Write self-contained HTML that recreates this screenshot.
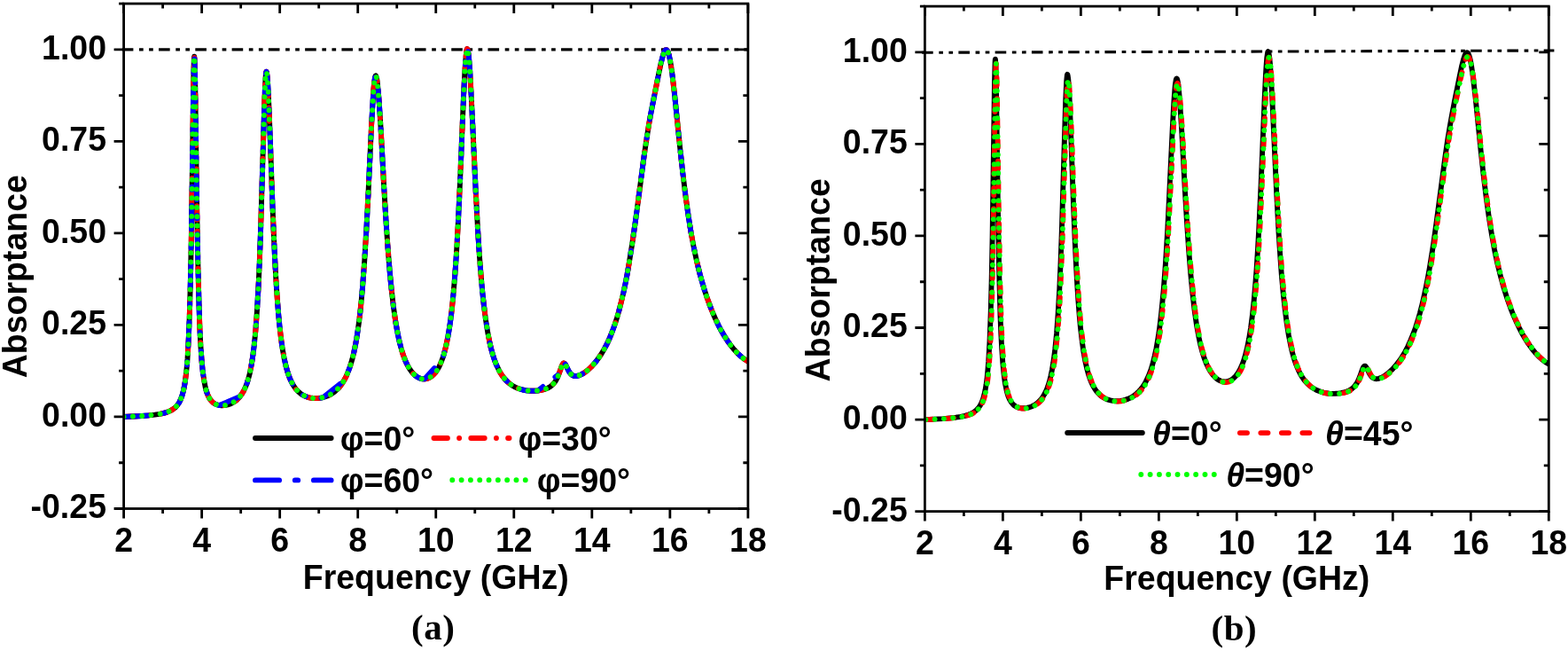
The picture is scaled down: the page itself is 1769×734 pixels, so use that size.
<!DOCTYPE html>
<html><head><meta charset="utf-8"><style>
html,body{margin:0;padding:0;background:#fff;}
svg{display:block;}
.lab{font-family:'Liberation Serif','Times New Roman',serif;font-size:41px;letter-spacing:0.6px;}
text{font-family:'Liberation Sans', Arial, sans-serif;font-weight:bold;font-size:37.5px;fill:#000;}
</style></head><body>
<svg width="1769" height="734" viewBox="0 0 1769 734">
<rect width="1769" height="734" fill="#fff"/>
<line x1="137.8" y1="55.9" x2="843.9" y2="55.9" stroke="#000" stroke-width="3.1" stroke-dasharray="12.6 6.6 4.7 6.4 4.7 6.27"/>
<clipPath id="clipa"><rect x="139.6" y="4.1" width="704.3" height="569.4"/></clipPath>
<g clip-path="url(#clipa)">
<path d="M139.6,470.0 L160.1,469.0 L167.9,468.4 L174.5,467.6 L180.0,466.8 L184.7,465.8 L188.8,464.6 L192.2,463.1 L195.2,461.4 L197.8,459.4 L200.0,457.0 L202.0,454.1 L203.6,450.9 L205.2,446.9 L206.5,442.4 L207.7,436.9 L208.8,430.5 L209.8,422.9 L210.7,414.3 L211.5,404.7 L212.8,381.8 L214.0,349.8 L215.0,311.3 L215.9,264.2 L218.3,90.0 L218.7,70.6 L218.9,65.4 L219.2,63.7 L219.4,65.4 L219.6,70.1 L220.2,93.5 L222.2,238.9 L223.5,304.9 L224.8,353.1 L225.5,372.8 L226.4,390.0 L227.5,405.9 L228.7,418.5 L230.2,428.9 L231.8,437.1 L232.8,440.8 L233.8,443.8 L234.9,446.4 L236.1,448.8 L237.4,450.8 L239.0,452.6 L240.6,454.1 L242.4,455.3 L243.9,456.0 L245.5,456.5 L247.2,456.9 L249.0,457.2 L250.9,457.2 L252.8,457.1 L254.8,456.8 L256.8,456.4 L260.5,455.1 L264.1,453.2 L267.3,450.8 L270.2,447.8 L272.6,444.6 L274.8,441.0 L276.8,436.8 L278.6,432.2 L280.2,426.9 L281.8,420.9 L283.2,414.0 L284.5,406.3 L285.6,398.6 L286.6,390.5 L288.4,372.4 L290.0,349.9 L291.6,322.4 L292.9,292.5 L294.2,255.7 L298.5,110.4 L299.5,88.7 L300.0,82.5 L300.3,81.3 L300.5,80.9 L300.7,81.1 L301.0,82.4 L301.6,86.9 L302.1,94.2 L302.8,106.1 L304.1,137.7 L307.5,232.7 L309.2,272.5 L310.3,295.3 L311.5,317.0 L312.7,335.5 L313.9,351.1 L315.3,366.6 L317.0,381.1 L318.6,392.8 L320.5,403.5 L322.6,412.8 L324.8,420.6 L326.0,424.1 L327.3,427.4 L328.8,430.5 L330.2,433.2 L331.9,435.9 L333.6,438.4 L335.4,440.4 L337.4,442.3 L339.4,444.0 L341.6,445.4 L344.0,446.6 L346.4,447.6 L349.0,448.3 L351.8,448.8 L354.6,449.1 L357.6,449.1 L360.6,448.8 L363.5,448.3 L366.4,447.5 L369.3,446.5 L371.7,445.4 L374.0,444.1 L376.2,442.6 L378.4,440.9 L380.4,439.1 L382.4,437.1 L384.1,434.9 L385.9,432.5 L387.5,430.0 L389.1,427.3 L390.6,424.2 L392.0,421.0 L394.8,413.7 L397.2,405.7 L399.1,398.1 L400.7,390.3 L402.3,381.7 L403.8,371.8 L405.3,361.0 L406.6,349.6 L407.9,336.5 L409.1,322.8 L411.3,293.1 L413.5,256.6 L415.5,218.0 L419.1,140.9 L420.7,112.8 L421.5,100.2 L422.3,92.1 L423.1,87.1 L423.5,85.7 L423.9,85.4 L424.3,85.9 L424.7,87.2 L425.2,89.2 L425.7,92.9 L426.7,102.4 L427.7,115.0 L429.5,142.9 L433.3,212.6 L435.3,246.0 L437.4,277.2 L439.5,303.7 L441.6,325.8 L443.9,345.9 L446.4,363.5 L449.1,378.1 L450.8,386.0 L452.8,393.6 L454.8,400.0 L457.0,405.9 L459.3,411.0 L461.8,415.6 L464.5,419.3 L467.2,422.3 L468.8,423.7 L470.3,424.8 L471.9,425.7 L473.6,426.5 L475.2,427.0 L476.9,427.3 L478.5,427.3 L480.2,427.2 L481.8,426.9 L483.4,426.3 L484.9,425.6 L486.5,424.6 L488.0,423.4 L489.4,422.1 L490.9,420.5 L492.2,418.8 L493.8,416.2 L495.4,413.5 L496.8,410.4 L498.2,407.0 L499.6,403.3 L500.9,399.1 L503.3,389.7 L505.5,378.8 L507.5,366.6 L509.4,352.2 L511.1,335.6 L512.5,319.4 L514.0,300.4 L515.4,278.1 L516.7,254.3 L519.0,205.1 L523.0,109.2 L524.4,80.2 L525.1,69.8 L525.8,62.0 L526.4,57.1 L526.7,55.7 L527.1,55.2 L527.4,55.4 L527.8,56.7 L528.6,61.5 L529.4,69.5 L530.2,80.2 L532.0,114.8 L536.8,217.0 L539.1,259.8 L540.7,285.6 L542.4,307.7 L544.1,327.6 L545.9,344.3 L548.0,360.6 L550.3,375.1 L552.8,387.8 L554.1,393.3 L555.6,398.6 L557.0,403.2 L558.5,407.6 L560.2,411.8 L562.0,415.6 L563.8,419.2 L565.7,422.3 L567.8,425.2 L570.0,427.9 L572.1,430.1 L574.2,431.9 L576.5,433.7 L578.9,435.2 L581.4,436.6 L584.1,437.8 L586.8,438.7 L589.8,439.5 L593.0,440.2 L596.3,440.6 L599.6,440.8 L603.0,440.8 L606.3,440.5 L609.5,440.1 L612.6,439.4 L615.3,438.6 L618.6,437.2 L621.5,435.4 L623.9,433.3 L626.1,430.7 L627.5,428.4 L629.0,425.6 L630.5,421.8 L633.8,412.7 L634.7,410.8 L635.6,409.7 L636.0,409.5 L636.6,409.6 L637.0,409.9 L637.6,410.5 L638.4,411.9 L641.0,417.1 L642.3,419.5 L643.8,421.5 L645.5,422.9 L647.4,423.8 L648.5,424.0 L649.6,424.1 L652.1,423.7 L654.8,422.7 L656.7,421.8 L658.7,420.6 L662.8,417.6 L666.8,413.9 L670.8,409.6 L674.5,404.8 L678.2,399.5 L681.6,393.8 L684.9,387.5 L687.9,381.0 L690.7,373.9 L693.5,366.3 L696.1,358.1 L698.5,349.7 L700.9,340.3 L703.3,330.4 L705.6,319.5 L707.7,308.6 L709.6,297.4 L713.6,272.5 L717.5,245.1 L726.8,174.6 L729.7,155.2 L732.4,138.4 L734.6,126.3 L737.4,112.1 L743.2,83.0 L745.8,70.7 L747.5,64.2 L748.9,59.8 L749.6,58.3 L750.3,57.1 L750.9,56.4 L751.5,56.2 L751.9,56.2 L752.3,56.5 L753.1,57.5 L753.9,59.3 L754.8,62.2 L755.5,65.5 L756.4,70.1 L758.2,81.8 L761.0,106.1 L767.2,166.8 L770.2,194.2 L773.4,220.5 L776.6,243.3 L779.5,261.7 L782.6,278.3 L786.0,294.3 L789.6,309.0 L792.2,318.2 L794.9,327.3 L797.8,336.0 L800.8,344.2 L803.8,352.0 L807.0,359.3 L810.3,366.3 L813.7,372.8 L817.3,378.9 L820.9,384.5 L824.6,389.7 L828.4,394.3 L832.2,398.5 L836.1,402.0 L840.0,405.1 L843.9,407.6" fill="none" stroke="#000" stroke-width="5.9" stroke-linejoin="round" stroke-linecap="round"/>
<path d="M139.6,470.0 L160.1,469.0 L167.9,468.4 L174.5,467.6 L180.0,466.8 L184.7,465.8 L188.8,464.6 L192.2,463.1 L195.2,461.4 L197.8,459.4 L200.0,457.0 L202.0,454.1 L203.6,450.9 L205.2,446.9 L206.5,442.4 L207.7,436.9 L208.8,430.5 L209.8,422.9 L210.7,414.3 L211.5,404.7 L212.8,381.8 L214.0,349.8 L215.0,311.3 L215.9,264.2 L218.3,90.0 L218.7,70.6 L218.9,65.4 L219.2,63.7 L219.4,65.4 L219.6,70.1 L220.2,93.5 L222.2,238.9 L223.5,304.9 L224.8,353.1 L225.5,372.8 L226.4,390.0 L227.5,405.9 L228.7,418.5 L230.2,428.9 L231.8,437.1 L232.8,440.8 L233.8,443.8 L234.9,446.4 L236.1,448.8 L237.4,450.8 L239.0,452.6 L240.6,454.1 L242.4,455.3 L243.9,456.0 L245.5,456.5 L247.2,456.9 L249.0,457.2 L250.9,457.2 L252.8,457.1 L254.8,456.8 L256.8,456.4 L260.5,455.1 L264.1,453.2 L267.3,450.8 L270.2,447.8 L272.6,444.6 L274.8,441.0 L276.8,436.8 L278.6,432.2 L280.2,426.9 L281.8,420.9 L283.2,414.0 L284.5,406.3 L285.6,398.6 L286.6,390.5 L288.4,372.4 L290.0,349.9 L291.6,322.4 L292.9,292.5 L294.2,255.7 L298.5,110.4 L299.5,88.7 L300.0,82.5 L300.3,81.3 L300.5,80.9 L300.7,81.1 L301.0,82.4 L301.6,86.9 L302.1,94.2 L302.8,106.1 L304.1,137.7 L307.5,232.7 L309.2,272.5 L310.3,295.3 L311.5,317.0 L312.7,335.5 L313.9,351.1 L315.3,366.6 L317.0,381.1 L318.6,392.8 L320.5,403.5 L322.6,412.8 L324.8,420.6 L326.0,424.1 L327.3,427.4 L328.8,430.5 L330.2,433.2 L331.9,435.9 L333.6,438.4 L335.4,440.4 L337.4,442.3 L339.4,444.0 L341.6,445.4 L344.0,446.6 L346.4,447.6 L349.0,448.3 L351.8,448.8 L354.6,449.1 L357.6,449.1 L360.6,448.8 L363.5,448.3 L366.4,447.5 L369.3,446.5 L371.7,445.4 L374.0,444.1 L376.2,442.6 L378.4,440.9 L380.4,439.1 L382.4,437.1 L384.1,434.9 L385.9,432.5 L387.5,430.0 L389.1,427.3 L390.6,424.2 L392.0,421.0 L394.8,413.7 L397.2,405.7 L399.1,398.1 L400.7,390.3 L402.3,381.7 L403.8,371.8 L405.3,361.0 L406.6,349.6 L407.9,336.5 L409.1,322.8 L411.3,293.1 L413.5,256.6 L415.5,218.0 L419.1,140.9 L420.7,112.8 L421.5,100.2 L422.3,92.1 L423.1,87.1 L423.5,85.7 L423.9,85.4 L424.3,85.9 L424.7,87.2 L425.2,89.2 L425.7,92.9 L426.7,102.4 L427.7,115.0 L429.5,142.9 L433.3,212.6 L435.3,246.0 L437.4,277.2 L439.5,303.7 L441.6,325.8 L443.9,345.9 L446.4,363.5 L449.1,378.1 L450.8,386.0 L452.8,393.6 L454.8,400.0 L457.0,405.9 L459.3,411.0 L461.8,415.6 L464.5,419.3 L467.2,422.3 L468.8,423.7 L470.3,424.8 L471.9,425.7 L473.6,426.5 L475.2,427.0 L476.9,427.3 L478.5,427.3 L480.2,427.2 L481.8,426.9 L483.4,426.3 L484.9,425.6 L486.5,424.6 L488.0,423.4 L489.4,422.1 L490.9,420.5 L492.2,418.8 L493.8,416.2 L495.4,413.5 L496.8,410.4 L498.2,407.0 L499.6,403.3 L500.9,399.1 L503.3,389.7 L505.5,378.8 L507.5,366.6 L509.4,352.2 L511.1,335.6 L512.5,319.4 L514.0,300.4 L515.4,278.1 L516.7,254.3 L519.0,205.1 L523.0,109.2 L524.4,80.2 L525.1,69.8 L525.8,62.0 L526.4,57.1 L526.7,55.7 L527.1,55.2 L527.4,55.4 L527.8,56.7 L528.6,61.5 L529.4,69.5 L530.2,80.2 L532.0,114.8 L536.8,217.0 L539.1,259.8 L540.7,285.6 L542.4,307.7 L544.1,327.6 L545.9,344.3 L548.0,360.6 L550.3,375.1 L552.8,387.8 L554.1,393.3 L555.6,398.6 L557.0,403.2 L558.5,407.6 L560.2,411.8 L562.0,415.6 L563.8,419.2 L565.7,422.3 L567.8,425.2 L570.0,427.9 L572.1,430.1 L574.2,431.9 L576.5,433.7 L578.9,435.2 L581.4,436.6 L584.1,437.8 L586.8,438.7 L589.8,439.5 L593.0,440.2 L596.3,440.6 L599.6,440.8 L603.0,440.8 L606.3,440.5 L609.5,440.1 L612.6,439.4 L615.3,438.6 L618.6,437.2 L621.5,435.4 L623.9,433.3 L626.1,430.7 L627.5,428.4 L629.0,425.6 L630.5,421.8 L633.8,412.7 L634.7,410.8 L635.6,409.7 L636.0,409.5 L636.6,409.6 L637.0,409.9 L637.6,410.5 L638.4,411.9 L641.0,417.1 L642.3,419.5 L643.8,421.5 L645.5,422.9 L647.4,423.8 L648.5,424.0 L649.6,424.1 L652.1,423.7 L654.8,422.7 L656.7,421.8 L658.7,420.6 L662.8,417.6 L666.8,413.9 L670.8,409.6 L674.5,404.8 L678.2,399.5 L681.6,393.8 L684.9,387.5 L687.9,381.0 L690.7,373.9 L693.5,366.3 L696.1,358.1 L698.5,349.7 L700.9,340.3 L703.3,330.4 L705.6,319.5 L707.7,308.6 L709.6,297.4 L713.6,272.5 L717.5,245.1 L726.8,174.6 L729.7,155.2 L732.4,138.4 L734.6,126.3 L737.4,112.1 L743.2,83.0 L745.8,70.7 L747.5,64.2 L748.9,59.8 L749.6,58.3 L750.3,57.1 L750.9,56.4 L751.5,56.2 L751.9,56.2 L752.3,56.5 L753.1,57.5 L753.9,59.3 L754.8,62.2 L755.5,65.5 L756.4,70.1 L758.2,81.8 L761.0,106.1 L767.2,166.8 L770.2,194.2 L773.4,220.5 L776.6,243.3 L779.5,261.7 L782.6,278.3 L786.0,294.3 L789.6,309.0 L792.2,318.2 L794.9,327.3 L797.8,336.0 L800.8,344.2 L803.8,352.0 L807.0,359.3 L810.3,366.3 L813.7,372.8 L817.3,378.9 L820.9,384.5 L824.6,389.7 L828.4,394.3 L832.2,398.5 L836.1,402.0 L840.0,405.1 L843.9,407.6" fill="none" stroke="#f00" stroke-width="5.9" stroke-linejoin="round" stroke-linecap="round" stroke-dasharray="15.4 13.2 0.01 13.2"/>
<path d="M139.6,470.0 L160.1,469.0 L167.9,468.4 L174.5,467.6 L180.0,466.8 L184.7,465.8 L188.8,464.6 L192.2,463.1 L195.2,461.4 L197.8,459.4 L200.0,457.0 L202.0,454.1 L203.6,450.9 L205.2,446.9 L206.5,442.4 L207.7,436.9 L208.8,430.5 L209.8,422.9 L210.7,414.3 L211.5,404.7 L212.8,381.8 L214.0,349.8 L215.0,311.3 L215.9,264.2 L218.3,90.0 L218.7,70.6 L218.9,65.4 L219.2,63.7 L219.4,65.4 L219.6,70.1 L220.2,93.5 L222.2,238.9 L223.5,304.9 L224.8,353.1 L225.5,372.8 L226.4,390.0 L227.5,405.9 L228.7,418.5 L230.2,428.9 L231.8,437.1 L232.8,440.8 L233.8,443.8 L234.9,446.4 L236.1,448.8 L237.4,450.8 L239.0,452.6 L240.6,454.1 L242.4,455.3 L244.8,456.3 L247.4,457.0 L270.8,447.2 L273.1,444.0 L275.2,440.3 L277.0,436.3 L278.8,431.6 L280.5,426.1 L281.9,420.4 L283.2,414.0 L284.5,406.3 L285.6,398.6 L286.6,390.5 L288.4,372.4 L290.0,349.9 L291.6,322.4 L292.9,292.5 L294.2,255.7 L298.5,110.4 L299.5,88.7 L300.0,82.5 L300.3,81.3 L300.5,80.9 L300.7,81.1 L301.0,82.4 L301.6,86.9 L302.7,103.9 L303.9,131.9 L307.3,226.9 L309.3,274.9 L310.4,297.4 L311.6,318.8 L312.8,337.0 L314.1,353.7 L315.6,368.7 L317.2,382.8 L319.0,394.9 L321.0,405.7 L323.0,414.5 L325.5,422.5 L326.8,426.1 L328.1,429.1 L329.5,432.0 L331.0,434.6 L332.4,436.7 L333.9,438.8 L335.6,440.6 L337.2,442.2 L339.1,443.8 L341.0,445.0 L343.0,446.1 L345.1,447.1 L347.3,447.9 L349.6,448.5 L352.0,448.9 L354.5,449.1 L357.1,449.1 L359.6,448.9 L362.1,448.6 L364.6,448.0 L387.6,429.8 L390.4,424.7 L392.9,418.9 L395.2,412.4 L397.4,404.8 L399.2,397.6 L400.9,389.7 L402.4,381.1 L403.9,371.0 L405.4,360.1 L406.7,348.6 L409.1,322.8 L411.3,293.1 L413.5,256.6 L415.5,218.0 L419.1,140.9 L420.7,112.8 L421.5,100.2 L422.3,92.1 L423.1,87.1 L423.5,85.7 L423.9,85.4 L424.3,85.9 L424.7,87.2 L425.6,92.1 L426.6,101.2 L427.6,113.4 L429.4,141.0 L433.4,214.5 L435.4,247.8 L437.6,280.2 L439.9,308.7 L442.3,333.0 L444.9,353.3 L446.2,362.2 L447.6,370.6 L449.1,378.1 L450.6,385.1 L452.8,393.6 L455.1,401.0 L457.6,407.5 L460.3,412.9 L461.7,415.4 L463.2,417.7 L464.8,419.7 L466.3,421.5 L468.0,423.0 L469.6,424.3 L471.3,425.4 L473.0,426.2 L474.6,426.8 L476.1,427.2 L477.7,427.3 L479.1,427.3 L498.8,405.4 L500.9,399.1 L503.0,391.1 L505.0,381.8 L506.7,371.7 L508.4,360.2 L509.9,347.4 L511.3,333.3 L512.7,318.1 L515.0,285.3 L517.3,243.4 L519.3,199.9 L522.9,111.7 L524.2,84.1 L525.0,71.4 L525.8,62.0 L526.4,57.1 L526.7,55.7 L527.1,55.2 L527.4,55.4 L527.8,56.7 L528.6,61.5 L529.4,69.5 L530.2,80.2 L532.0,114.8 L536.8,217.0 L539.1,259.8 L540.7,285.6 L542.4,307.7 L544.1,327.6 L545.9,344.3 L548.0,360.6 L550.3,375.1 L552.8,387.8 L554.1,393.3 L555.6,398.6 L557.0,403.2 L558.5,407.6 L560.2,411.8 L562.0,415.6 L563.8,419.2 L565.7,422.3 L567.8,425.2 L570.0,427.9 L573.5,431.4 L577.3,434.2 L581.3,436.5 L585.8,438.4 L590.8,439.8 L596.0,440.6 L601.4,440.8 L606.7,440.5 L630.4,421.9 L634.0,412.1 L635.0,410.3 L635.5,409.8 L635.9,409.6 L636.4,409.5 L636.8,409.7 L637.8,410.8 L638.7,412.4 L641.3,417.8 L643.1,420.6 L644.7,422.3 L646.5,423.5 L647.8,423.9 L649.1,424.1 L650.5,424.0 L652.1,423.7 L653.7,423.2 L655.5,422.4 L659.4,420.2 L662.8,417.6 L666.3,414.4 L669.7,410.8 L673.0,406.9 L676.2,402.5 L679.2,397.9 L682.1,392.8 L684.9,387.5 L687.9,381.0 L690.7,373.9 L693.5,366.3 L696.1,358.1 L698.5,349.7 L700.9,340.3 L703.3,330.4 L705.6,319.5 L707.7,308.6 L709.6,297.4 L713.6,272.5 L717.5,245.1 L726.8,174.6 L729.7,155.2 L732.4,138.4 L734.6,126.3 L737.4,112.1 L743.2,83.0 L745.8,70.7 L747.5,64.2 L748.9,59.8 L749.6,58.3 L750.3,57.1 L750.9,56.4 L751.5,56.2 L751.9,56.2 L752.3,56.5 L753.1,57.5 L753.9,59.3 L754.8,62.2 L755.5,65.5 L756.4,70.1 L758.2,81.8 L761.0,106.1 L767.2,166.8 L770.2,194.2 L773.4,220.5 L776.6,243.3 L779.5,261.7 L782.6,278.3 L786.0,294.3 L789.6,309.0 L792.2,318.2 L794.9,327.3 L797.8,336.0 L800.8,344.2 L803.8,352.0 L807.0,359.3 L810.3,366.3 L813.7,372.8 L817.3,378.9 L820.9,384.5 L824.6,389.7 L828.4,394.3 L832.2,398.5 L836.1,402.0 L840.0,405.1 L843.9,407.6" fill="none" stroke="#00f" stroke-width="5.9" stroke-linejoin="round" stroke-linecap="round" stroke-dasharray="27.1 17.7 3.4 17.7"/>
<path d="M139.6,470.0 L160.1,469.0 L167.9,468.4 L174.5,467.6 L180.0,466.8 L184.7,465.8 L188.8,464.6 L192.2,463.1 L195.2,461.4 L197.8,459.4 L200.0,457.0 L202.0,454.1 L203.6,450.9 L205.2,446.9 L206.5,442.4 L207.7,436.9 L208.8,430.5 L209.8,422.9 L210.7,414.3 L211.5,404.7 L212.8,381.8 L214.0,349.8 L215.0,311.3 L215.9,264.2 L218.3,90.0 L218.7,70.6 L218.9,65.4 L219.2,63.7 L219.4,65.4 L219.6,70.1 L220.2,93.5 L222.2,238.9 L223.5,304.9 L224.8,353.1 L225.5,372.8 L226.4,390.0 L227.5,405.9 L228.7,418.5 L230.2,428.9 L231.8,437.1 L232.8,440.8 L233.8,443.8 L234.9,446.4 L236.1,448.8 L237.4,450.8 L239.0,452.6 L240.6,454.1 L242.4,455.3 L243.9,456.0 L245.5,456.5 L247.2,456.9 L249.0,457.2 L250.9,457.2 L252.8,457.1 L254.8,456.8 L256.8,456.4 L260.5,455.1 L264.1,453.2 L267.3,450.8 L270.2,447.8 L272.6,444.6 L274.8,441.0 L276.8,436.8 L278.6,432.2 L280.2,426.9 L281.8,420.9 L283.2,414.0 L284.5,406.3 L285.6,398.6 L286.6,390.5 L288.4,372.4 L290.0,349.9 L291.6,322.4 L292.9,292.5 L294.2,255.7 L298.5,110.4 L299.5,88.7 L300.0,82.5 L300.3,81.3 L300.5,80.9 L300.7,81.1 L301.0,82.4 L301.6,86.9 L302.1,94.2 L302.8,106.1 L304.1,137.7 L307.5,232.7 L309.2,272.5 L310.3,295.3 L311.5,317.0 L312.7,335.5 L313.9,351.1 L315.3,366.6 L317.0,381.1 L318.6,392.8 L320.5,403.5 L322.6,412.8 L324.8,420.6 L326.0,424.1 L327.3,427.4 L328.8,430.5 L330.2,433.2 L331.9,435.9 L333.6,438.4 L335.4,440.4 L337.4,442.3 L339.4,444.0 L341.6,445.4 L344.0,446.6 L346.4,447.6 L349.0,448.3 L351.8,448.8 L354.6,449.1 L357.6,449.1 L360.6,448.8 L363.5,448.3 L366.4,447.5 L369.3,446.5 L371.7,445.4 L374.0,444.1 L376.2,442.6 L378.4,440.9 L380.4,439.1 L382.4,437.1 L384.1,434.9 L385.9,432.5 L387.5,430.0 L389.1,427.3 L390.6,424.2 L392.0,421.0 L394.8,413.7 L397.2,405.7 L399.1,398.1 L400.7,390.3 L402.3,381.7 L403.8,371.8 L405.3,361.0 L406.6,349.6 L407.9,336.5 L409.1,322.8 L411.3,293.1 L413.5,256.6 L415.5,218.0 L419.1,140.9 L420.7,112.8 L421.5,100.2 L422.3,92.1 L423.1,87.1 L423.5,85.7 L423.9,85.4 L424.3,85.9 L424.7,87.2 L425.2,89.2 L425.7,92.9 L426.7,102.4 L427.7,115.0 L429.5,142.9 L433.3,212.6 L435.3,246.0 L437.4,277.2 L439.5,303.7 L441.6,325.8 L443.9,345.9 L446.4,363.5 L449.1,378.1 L450.8,386.0 L452.8,393.6 L454.8,400.0 L457.0,405.9 L459.3,411.0 L461.8,415.6 L464.5,419.3 L467.2,422.3 L468.8,423.7 L470.3,424.8 L471.9,425.7 L473.6,426.5 L475.2,427.0 L476.9,427.3 L478.5,427.3 L480.2,427.2 L481.8,426.9 L483.4,426.3 L484.9,425.6 L486.5,424.6 L488.0,423.4 L489.4,422.1 L490.9,420.5 L492.2,418.8 L493.8,416.2 L495.4,413.5 L496.8,410.4 L498.2,407.0 L499.6,403.3 L500.9,399.1 L503.3,389.7 L505.5,378.8 L507.5,366.6 L509.4,352.2 L511.1,335.6 L512.5,319.4 L514.0,300.4 L515.4,278.1 L516.7,254.3 L519.0,205.1 L523.0,109.2 L524.4,80.2 L525.1,69.8 L525.8,62.0 L526.4,57.1 L526.7,55.7 L527.1,55.2 L527.4,55.4 L527.8,56.7 L528.6,61.5 L529.4,69.5 L530.2,80.2 L532.0,114.8 L536.8,217.0 L539.1,259.8 L540.7,285.6 L542.4,307.7 L544.1,327.6 L545.9,344.3 L548.0,360.6 L550.3,375.1 L552.8,387.8 L554.1,393.3 L555.6,398.6 L557.0,403.2 L558.5,407.6 L560.2,411.8 L562.0,415.6 L563.8,419.2 L565.7,422.3 L567.8,425.2 L570.0,427.9 L572.1,430.1 L574.2,431.9 L576.5,433.7 L578.9,435.2 L581.4,436.6 L584.1,437.8 L586.8,438.7 L589.8,439.5 L593.0,440.2 L596.3,440.6 L599.6,440.8 L603.0,440.8 L606.3,440.5 L609.5,440.1 L612.6,439.4 L615.3,438.6 L618.6,437.2 L621.5,435.4 L623.9,433.3 L626.1,430.7 L627.5,428.4 L629.0,425.6 L630.5,421.8 L633.8,412.7 L634.7,410.8 L635.6,409.7 L636.0,409.5 L636.6,409.6 L637.0,409.9 L637.6,410.5 L638.4,411.9 L641.0,417.1 L642.3,419.5 L643.8,421.5 L645.5,422.9 L647.4,423.8 L648.5,424.0 L649.6,424.1 L652.1,423.7 L654.8,422.7 L656.7,421.8 L658.7,420.6 L662.8,417.6 L666.8,413.9 L670.8,409.6 L674.5,404.8 L678.2,399.5 L681.6,393.8 L684.9,387.5 L687.9,381.0 L690.7,373.9 L693.5,366.3 L696.1,358.1 L698.5,349.7 L700.9,340.3 L703.3,330.4 L705.6,319.5 L707.7,308.6 L709.6,297.4 L713.6,272.5 L717.5,245.1 L726.8,174.6 L729.7,155.2 L732.4,138.4 L734.6,126.3 L737.4,112.1 L743.2,83.0 L745.8,70.7 L747.5,64.2 L748.9,59.8 L749.6,58.3 L750.3,57.1 L750.9,56.4 L751.5,56.2 L751.9,56.2 L752.3,56.5 L753.1,57.5 L753.9,59.3 L754.8,62.2 L755.5,65.5 L756.4,70.1 L758.2,81.8 L761.0,106.1 L767.2,166.8 L770.2,194.2 L773.4,220.5 L776.6,243.3 L779.5,261.7 L782.6,278.3 L786.0,294.3 L789.6,309.0 L792.2,318.2 L794.9,327.3 L797.8,336.0 L800.8,344.2 L803.8,352.0 L807.0,359.3 L810.3,366.3 L813.7,372.8 L817.3,378.9 L820.9,384.5 L824.6,389.7 L828.4,394.3 L832.2,398.5 L836.1,402.0 L840.0,405.1 L843.9,407.6" fill="none" stroke="#0f0" stroke-width="5.9" stroke-linejoin="round" stroke-linecap="round" stroke-dasharray="0.01 10.3"/>
</g>
<rect x="139.6" y="4.1" width="704.3" height="569.4" fill="none" stroke="#000" stroke-width="2.8"/>
<line x1="134.1" y1="4.1" x2="139.6" y2="4.1" stroke="#000" stroke-width="2.8"/>
<path d="M139.60,573.5v11 M139.60,4.1v11 M183.62,573.5v5.5 M183.62,4.1v5.5 M227.64,573.5v11 M227.64,4.1v11 M271.66,573.5v5.5 M271.66,4.1v5.5 M315.67,573.5v11 M315.67,4.1v11 M359.69,573.5v5.5 M359.69,4.1v5.5 M403.71,573.5v11 M403.71,4.1v11 M447.73,573.5v5.5 M447.73,4.1v5.5 M491.75,573.5v11 M491.75,4.1v11 M535.77,573.5v5.5 M535.77,4.1v5.5 M579.79,573.5v11 M579.79,4.1v11 M623.81,573.5v5.5 M623.81,4.1v5.5 M667.82,573.5v11 M667.82,4.1v11 M711.84,573.5v5.5 M711.84,4.1v5.5 M755.86,573.5v11 M755.86,4.1v11 M799.88,573.5v5.5 M799.88,4.1v5.5 M843.90,573.5v11 M843.90,4.1v11 M139.6,573.50h-11 M843.9,573.50h-11 M139.6,521.74h-5.5 M843.9,521.74h-5.5 M139.6,469.97h-11 M843.9,469.97h-11 M139.6,418.21h-5.5 M843.9,418.21h-5.5 M139.6,366.45h-11 M843.9,366.45h-11 M139.6,314.68h-5.5 M843.9,314.68h-5.5 M139.6,262.92h-11 M843.9,262.92h-11 M139.6,211.15h-5.5 M843.9,211.15h-5.5 M139.6,159.39h-11 M843.9,159.39h-11 M139.6,107.63h-5.5 M843.9,107.63h-5.5 M139.6,55.86h-11 M843.9,55.86h-11" stroke="#000" stroke-width="2.8" fill="none"/>
<text transform="translate(139.60,621.50) scale(1,1.035)" text-anchor="middle">2</text>
<text transform="translate(227.64,621.50) scale(1,1.035)" text-anchor="middle">4</text>
<text transform="translate(315.67,621.50) scale(1,1.035)" text-anchor="middle">6</text>
<text transform="translate(403.71,621.50) scale(1,1.035)" text-anchor="middle">8</text>
<text transform="translate(491.75,621.50) scale(1,1.035)" text-anchor="middle">10</text>
<text transform="translate(579.79,621.50) scale(1,1.035)" text-anchor="middle">12</text>
<text transform="translate(667.82,621.50) scale(1,1.035)" text-anchor="middle">14</text>
<text transform="translate(755.86,621.50) scale(1,1.035)" text-anchor="middle">16</text>
<text transform="translate(843.90,621.50) scale(1,1.035)" text-anchor="middle">18</text>
<text transform="translate(120.00,584.40) scale(1,1.035)" text-anchor="end">-0.25</text>
<text transform="translate(120.00,480.87) scale(1,1.035)" text-anchor="end">0.00</text>
<text transform="translate(120.00,377.35) scale(1,1.035)" text-anchor="end">0.25</text>
<text transform="translate(120.00,273.82) scale(1,1.035)" text-anchor="end">0.50</text>
<text transform="translate(120.00,170.29) scale(1,1.035)" text-anchor="end">0.75</text>
<text transform="translate(120.00,66.76) scale(1,1.035)" text-anchor="end">1.00</text>
<text transform="translate(491.75,664.30) scale(1,1.035)" text-anchor="middle">Frequency (GHz)</text>
<text transform="translate(30.099999999999994,311.70000000000005) rotate(-90) scale(1,1.035)" text-anchor="middle">Absorptance</text>
<text x="488.75" y="720.8" text-anchor="middle" class="lab">(a)</text>
<line x1="288" y1="494.0" x2="373.6" y2="494.0" stroke="#000" stroke-width="5.9" stroke-linecap="round"/>
<text transform="translate(383.7,507.5) scale(1,1.035)"><tspan>φ</tspan>=0°</text>
<line x1="489.5" y1="494.0" x2="574.5" y2="494.0" stroke="#f00" stroke-width="5.9" stroke-linecap="round" stroke-dasharray="15.4 13.2 0.01 13.2"/>
<text transform="translate(584.4,507.5) scale(1,1.035)"><tspan>φ</tspan>=30°</text>
<line x1="288" y1="541.4" x2="373.6" y2="541.4" stroke="#00f" stroke-width="5.9" stroke-linecap="round" stroke-dasharray="27.1 17.7 3.4 17.7"/>
<text transform="translate(383.7,555.0) scale(1,1.035)"><tspan>φ</tspan>=60°</text>
<line x1="510.3" y1="541.3" x2="595" y2="541.3" stroke="#0f0" stroke-width="5.9" stroke-linecap="round" stroke-dasharray="0.01 10.3"/>
<text transform="translate(605.7,555.0) scale(1,1.035)"><tspan>φ</tspan>=90°</text>
<line x1="1040.1" y1="59.3" x2="1753.4" y2="57.0" stroke="#000" stroke-width="3.1" stroke-dasharray="12.6 6.6 4.7 6.4 4.7 6.27"/>
<clipPath id="clipb"><rect x="1043.4" y="7.1" width="703.8999999999999" height="569.5"/></clipPath>
<g clip-path="url(#clipb)">
<path d="M1043.4,473.1 L1063.9,472.1 L1071.7,471.4 L1078.3,470.7 L1083.8,469.9 L1088.5,468.9 L1092.6,467.6 L1096.0,466.2 L1098.9,464.5 L1101.6,462.4 L1103.8,460.1 L1105.8,457.2 L1107.4,454.0 L1109.0,450.0 L1110.3,445.4 L1111.5,440.0 L1112.6,433.6 L1113.6,426.0 L1114.4,417.3 L1115.2,407.7 L1116.5,384.9 L1117.7,352.8 L1118.7,314.4 L1119.6,267.3 L1122.0,93.0 L1122.5,73.6 L1122.7,68.4 L1122.9,66.7 L1123.1,68.4 L1123.4,73.1 L1123.9,96.6 L1126.0,242.0 L1127.2,308.0 L1128.5,356.1 L1129.3,375.9 L1130.2,393.1 L1131.3,409.0 L1132.5,421.5 L1133.9,431.9 L1135.6,440.2 L1136.6,443.9 L1137.5,446.8 L1138.6,449.5 L1139.9,451.9 L1141.2,453.9 L1142.7,455.7 L1144.4,457.2 L1146.1,458.3 L1147.7,459.1 L1149.2,459.6 L1151.0,460.0 L1152.7,460.2 L1154.6,460.3 L1156.6,460.2 L1158.6,459.9 L1160.5,459.5 L1164.3,458.2 L1167.8,456.3 L1171.0,453.9 L1174.0,450.9 L1176.4,447.7 L1178.6,444.0 L1180.6,439.9 L1182.3,435.3 L1184.0,430.0 L1185.5,423.9 L1186.9,417.1 L1188.2,409.3 L1189.3,401.6 L1190.3,393.5 L1192.1,375.5 L1193.7,353.0 L1195.3,325.5 L1196.6,295.5 L1197.9,258.7 L1202.2,113.4 L1203.2,91.8 L1203.8,85.5 L1204.0,84.3 L1204.2,83.9 L1204.4,84.2 L1204.7,85.4 L1205.3,89.9 L1205.8,97.2 L1206.5,109.1 L1207.8,140.7 L1211.2,235.7 L1212.9,275.6 L1214.0,298.4 L1215.2,320.0 L1216.4,338.5 L1217.6,354.2 L1219.0,369.7 L1220.7,384.2 L1222.3,395.9 L1224.2,406.6 L1226.3,415.9 L1228.5,423.6 L1229.7,427.1 L1231.0,430.5 L1232.5,433.6 L1233.9,436.3 L1235.5,439.0 L1237.3,441.4 L1239.1,443.5 L1241.0,445.4 L1243.1,447.1 L1245.3,448.5 L1247.6,449.7 L1250.1,450.7 L1252.7,451.4 L1255.4,451.9 L1258.3,452.2 L1261.3,452.2 L1264.2,451.9 L1267.2,451.4 L1270.1,450.6 L1272.9,449.6 L1275.4,448.5 L1277.7,447.2 L1279.9,445.7 L1282.1,444.0 L1284.0,442.2 L1286.0,440.1 L1287.8,438.0 L1289.5,435.6 L1291.2,433.1 L1292.7,430.3 L1295.7,424.1 L1298.5,416.8 L1300.9,408.7 L1302.7,401.2 L1304.4,393.3 L1305.9,384.8 L1307.5,374.8 L1308.9,364.1 L1310.2,352.6 L1311.5,339.5 L1312.8,325.8 L1315.0,296.2 L1317.2,259.7 L1319.1,221.1 L1322.8,144.0 L1324.3,115.8 L1325.2,103.2 L1325.9,95.1 L1326.7,90.1 L1327.2,88.7 L1327.5,88.5 L1327.9,88.9 L1328.4,90.2 L1328.8,92.3 L1329.4,95.9 L1330.3,105.4 L1331.3,118.0 L1333.1,145.9 L1336.9,215.6 L1338.9,249.1 L1341.0,280.2 L1343.1,306.7 L1345.2,328.9 L1347.5,349.0 L1350.0,366.6 L1352.7,381.1 L1354.4,389.1 L1356.4,396.7 L1358.4,403.1 L1360.6,409.0 L1362.9,414.1 L1365.4,418.6 L1368.1,422.4 L1370.8,425.4 L1372.4,426.7 L1373.9,427.9 L1375.6,428.8 L1377.2,429.5 L1378.9,430.0 L1380.5,430.3 L1382.2,430.4 L1383.8,430.3 L1385.5,429.9 L1387.0,429.4 L1388.5,428.7 L1390.1,427.7 L1391.6,426.5 L1393.0,425.2 L1394.5,423.6 L1395.8,421.8 L1397.4,419.3 L1399.0,416.5 L1400.4,413.5 L1401.8,410.0 L1403.2,406.4 L1404.5,402.2 L1406.9,392.8 L1409.1,381.9 L1411.1,369.6 L1412.9,355.3 L1414.7,338.7 L1416.1,322.5 L1417.6,303.4 L1419.0,281.1 L1420.3,257.3 L1422.6,208.1 L1426.6,112.2 L1428.0,83.2 L1428.7,72.8 L1429.3,65.0 L1430.0,60.1 L1430.3,58.7 L1430.7,58.2 L1431.0,58.4 L1431.4,59.7 L1432.2,64.5 L1433.0,72.5 L1433.7,83.3 L1435.6,117.8 L1440.3,220.0 L1442.6,262.8 L1444.3,288.7 L1445.9,310.8 L1447.7,330.7 L1449.5,347.3 L1451.6,363.7 L1453.9,378.2 L1456.4,390.8 L1457.7,396.3 L1459.1,401.6 L1460.6,406.3 L1462.1,410.7 L1463.8,414.9 L1465.5,418.7 L1467.4,422.3 L1469.3,425.3 L1471.3,428.3 L1473.5,431.0 L1475.6,433.1 L1477.7,435.0 L1480.0,436.8 L1482.5,438.3 L1485.0,439.7 L1487.6,440.8 L1490.4,441.8 L1493.3,442.6 L1496.5,443.3 L1499.8,443.7 L1503.1,443.9 L1506.5,443.8 L1509.8,443.6 L1513.0,443.2 L1516.1,442.5 L1518.9,441.7 L1522.2,440.3 L1525.0,438.5 L1527.4,436.4 L1529.6,433.7 L1531.1,431.5 L1532.5,428.6 L1534.0,424.9 L1537.3,415.7 L1538.2,413.9 L1539.1,412.8 L1539.5,412.6 L1540.1,412.7 L1540.5,412.9 L1541.1,413.6 L1542.0,415.0 L1544.5,420.2 L1545.8,422.5 L1547.3,424.6 L1549.0,426.0 L1550.9,426.9 L1552.0,427.1 L1553.1,427.2 L1555.6,426.8 L1558.3,425.8 L1560.2,424.9 L1562.2,423.7 L1566.3,420.7 L1570.3,416.9 L1574.3,412.6 L1578.0,407.9 L1581.7,402.6 L1585.1,396.9 L1588.4,390.5 L1591.3,384.0 L1594.2,377.0 L1597.0,369.4 L1599.6,361.2 L1602.0,352.8 L1604.4,343.4 L1606.7,333.5 L1609.0,322.5 L1611.1,311.7 L1613.1,300.5 L1617.1,275.5 L1620.9,248.2 L1630.3,177.6 L1633.1,158.2 L1635.9,141.5 L1638.1,129.3 L1640.8,115.1 L1646.7,86.0 L1649.3,73.7 L1651.0,67.2 L1652.4,62.8 L1653.0,61.3 L1653.7,60.2 L1654.4,59.4 L1654.9,59.2 L1655.4,59.3 L1655.8,59.5 L1656.6,60.6 L1657.3,62.3 L1658.2,65.2 L1659.0,68.5 L1659.9,73.1 L1661.6,84.8 L1664.5,109.2 L1670.6,169.8 L1673.6,197.3 L1676.8,223.5 L1680.0,246.3 L1683.0,264.7 L1686.0,281.3 L1689.4,297.3 L1693.1,312.1 L1695.6,321.3 L1698.4,330.4 L1701.2,339.1 L1704.2,347.3 L1707.3,355.1 L1710.5,362.4 L1713.8,369.3 L1717.2,375.9 L1720.7,381.9 L1724.3,387.6 L1728.1,392.8 L1731.8,397.4 L1735.6,401.5 L1739.5,405.1 L1743.5,408.2 L1747.3,410.6" fill="none" stroke="#000" stroke-width="5.9" stroke-linejoin="round" stroke-linecap="round"/>
<path d="M1044.3,473.1 L1064.8,472.1 L1072.6,471.5 L1079.2,470.8 L1084.7,470.0 L1089.4,469.0 L1093.5,467.8 L1096.9,466.4 L1099.8,464.7 L1102.5,462.6 L1104.7,460.3 L1106.7,457.4 L1108.3,454.3 L1109.9,450.3 L1111.2,445.9 L1112.4,440.5 L1113.5,434.1 L1114.5,426.6 L1115.3,418.1 L1116.1,408.6 L1117.4,386.0 L1118.6,354.4 L1119.6,316.4 L1120.5,269.9 L1122.9,97.6 L1123.4,78.4 L1123.6,73.3 L1123.8,71.7 L1124.0,73.3 L1124.3,77.9 L1124.8,101.1 L1126.9,244.7 L1128.1,310.0 L1129.4,357.6 L1130.2,377.1 L1131.1,394.1 L1132.2,409.8 L1133.4,422.2 L1134.8,432.5 L1135.7,437.2 L1136.6,441.1 L1137.6,444.6 L1138.6,447.5 L1139.7,450.1 L1140.9,452.4 L1142.2,454.3 L1143.7,456.1 L1145.4,457.5 L1147.1,458.7 L1148.7,459.4 L1150.2,459.9 L1152.0,460.3 L1153.7,460.5 L1155.6,460.6 L1157.6,460.4 L1161.5,459.7 L1165.3,458.4 L1168.8,456.6 L1172.0,454.2 L1175.0,451.2 L1177.4,448.1 L1179.6,444.4 L1181.6,440.3 L1183.3,435.8 L1185.0,430.5 L1186.5,424.5 L1187.9,417.6 L1189.3,410.0 L1190.4,402.3 L1191.3,394.2 L1193.1,376.2 L1194.8,353.7 L1196.3,326.2 L1197.6,296.2 L1198.9,259.5 L1203.1,119.3 L1204.1,97.8 L1204.7,91.5 L1204.9,90.3 L1205.1,89.9 L1205.3,90.1 L1205.6,91.3 L1206.2,95.6 L1206.7,102.7 L1207.4,114.3 L1208.7,145.3 L1212.1,238.7 L1213.8,278.0 L1214.9,300.5 L1216.1,321.9 L1217.3,340.2 L1218.5,355.7 L1219.9,370.9 L1221.6,385.3 L1223.2,396.9 L1225.1,407.4 L1227.2,416.7 L1229.4,424.3 L1231.9,431.0 L1233.4,434.1 L1234.8,436.8 L1236.4,439.5 L1238.2,441.9 L1240.0,443.9 L1241.9,445.8 L1244.0,447.5 L1246.2,448.9 L1248.5,450.0 L1251.1,451.0 L1253.7,451.8 L1256.6,452.3 L1259.4,452.5 L1262.4,452.5 L1265.4,452.2 L1268.2,451.7 L1271.1,450.9 L1273.9,449.9 L1276.4,448.8 L1278.7,447.5 L1280.9,446.1 L1283.1,444.4 L1285.1,442.6 L1287.0,440.6 L1288.8,438.5 L1290.6,436.1 L1292.2,433.6 L1293.7,430.9 L1296.7,424.7 L1299.5,417.4 L1301.9,409.5 L1303.6,402.5 L1305.3,394.7 L1306.8,386.3 L1308.4,376.6 L1309.8,366.0 L1311.1,354.8 L1312.4,341.9 L1313.7,328.4 L1315.9,299.2 L1318.1,263.3 L1320.0,225.2 L1323.7,149.1 L1325.2,121.2 L1326.1,108.7 L1326.8,100.6 L1327.6,95.6 L1328.1,94.2 L1328.4,93.9 L1328.8,94.3 L1329.3,95.5 L1329.7,97.5 L1330.3,101.1 L1331.2,110.3 L1332.2,122.7 L1334.0,150.1 L1337.8,218.8 L1339.8,251.8 L1341.9,282.6 L1344.0,308.7 L1346.2,331.7 L1348.5,351.3 L1351.0,368.6 L1353.7,382.8 L1355.4,390.6 L1357.4,398.0 L1359.5,404.6 L1361.7,410.3 L1364.0,415.3 L1366.6,419.7 L1369.2,423.3 L1371.9,426.2 L1373.5,427.5 L1375.0,428.6 L1376.6,429.5 L1378.2,430.2 L1379.9,430.7 L1381.5,431.0 L1383.2,431.0 L1384.8,430.9 L1386.5,430.5 L1388.0,430.0 L1389.5,429.3 L1391.1,428.3 L1392.6,427.1 L1394.1,425.8 L1395.5,424.2 L1396.8,422.5 L1398.4,420.0 L1400.0,417.2 L1401.4,414.2 L1402.8,410.8 L1404.2,407.1 L1405.5,402.9 L1407.9,393.6 L1410.1,382.8 L1412.1,370.6 L1414.0,356.3 L1415.6,340.9 L1417.0,325.0 L1418.5,306.2 L1419.9,284.3 L1421.2,260.9 L1423.5,212.4 L1427.5,118.0 L1428.9,89.4 L1429.6,79.2 L1430.2,71.5 L1430.9,66.6 L1431.2,65.3 L1431.6,64.8 L1431.9,65.0 L1432.3,66.3 L1433.1,71.0 L1433.9,78.8 L1434.6,89.4 L1436.5,123.3 L1441.2,223.8 L1443.5,265.9 L1445.2,291.3 L1446.8,313.1 L1448.6,332.7 L1450.4,349.1 L1452.5,365.2 L1454.8,379.5 L1457.3,391.9 L1458.6,397.4 L1460.0,402.6 L1461.6,407.5 L1463.1,411.8 L1464.8,415.9 L1466.5,419.6 L1468.4,423.1 L1470.3,426.1 L1472.4,429.0 L1474.6,431.6 L1476.6,433.7 L1478.7,435.5 L1481.0,437.3 L1483.5,438.8 L1486.0,440.1 L1488.6,441.2 L1491.4,442.2 L1494.4,443.0 L1497.5,443.6 L1500.7,444.0 L1504.0,444.1 L1507.4,444.1 L1510.7,443.9 L1513.9,443.4 L1517.0,442.8 L1519.8,441.9 L1523.1,440.5 L1525.9,438.7 L1528.3,436.6 L1530.5,434.0 L1532.0,431.7 L1533.4,428.9 L1534.9,425.1 L1538.2,416.0 L1539.1,414.2 L1540.0,413.1 L1540.4,412.9 L1541.0,412.9 L1541.4,413.2 L1542.0,413.8 L1542.9,415.3 L1545.3,420.2 L1546.6,422.6 L1548.1,424.7 L1549.8,426.2 L1551.7,427.1 L1552.8,427.4 L1553.9,427.4 L1556.4,427.1 L1559.1,426.1 L1562.9,424.1 L1566.9,421.2 L1571.0,417.5 L1575.1,413.1 L1578.8,408.5 L1582.5,403.2 L1585.9,397.5 L1589.2,391.2 L1592.1,384.8 L1595.0,377.9 L1597.7,370.3 L1600.3,362.5 L1602.7,354.3 L1605.1,345.0 L1607.4,335.3 L1609.7,324.5 L1611.8,313.8 L1613.8,302.8 L1617.9,277.4 L1621.7,250.3 L1631.1,180.3 L1633.9,161.1 L1636.7,144.6 L1638.9,132.7 L1641.5,119.4 L1647.6,90.0 L1650.2,78.1 L1651.9,71.7 L1653.3,67.5 L1653.9,66.0 L1654.6,64.9 L1655.3,64.2 L1655.8,64.0 L1656.3,64.1 L1656.7,64.4 L1657.5,65.4 L1658.2,67.2 L1659.1,70.0 L1659.9,73.3 L1660.8,77.9 L1662.5,89.4 L1665.4,113.5 L1671.4,172.3 L1674.4,199.4 L1677.6,225.4 L1680.8,248.0 L1683.7,266.1 L1686.8,282.6 L1690.2,298.4 L1693.9,313.0 L1696.4,322.1 L1699.1,331.2 L1702.0,339.7 L1705.0,347.9 L1708.1,355.6 L1711.2,362.9 L1714.7,370.0 L1718.1,376.5 L1721.6,382.5 L1725.2,388.1 L1729.0,393.2 L1732.7,397.8 L1736.5,401.9 L1740.4,405.5 L1744.4,408.5 L1748.2,410.9" fill="none" stroke="#f00" stroke-width="5.9" stroke-linejoin="round" stroke-linecap="round" stroke-dasharray="8.1 15.4"/>
<path d="M1044.3,473.1 L1064.8,472.1 L1072.6,471.5 L1079.2,470.8 L1084.7,470.0 L1089.4,469.0 L1093.5,467.8 L1096.9,466.4 L1099.8,464.7 L1102.5,462.6 L1104.7,460.3 L1106.7,457.4 L1108.3,454.3 L1109.9,450.3 L1111.2,445.9 L1112.4,440.5 L1113.5,434.1 L1114.5,426.6 L1115.3,418.1 L1116.1,408.6 L1117.4,386.0 L1118.6,354.4 L1119.6,316.4 L1120.5,269.9 L1122.9,97.6 L1123.4,78.4 L1123.6,73.3 L1123.8,71.7 L1124.0,73.3 L1124.3,77.9 L1124.8,101.1 L1126.9,244.7 L1128.1,310.0 L1129.4,357.6 L1130.2,377.1 L1131.1,394.1 L1132.2,409.8 L1133.4,422.2 L1134.8,432.5 L1135.7,437.2 L1136.6,441.1 L1137.6,444.6 L1138.6,447.5 L1139.7,450.1 L1140.9,452.4 L1142.2,454.3 L1143.7,456.1 L1145.4,457.5 L1147.1,458.7 L1148.7,459.4 L1150.2,459.9 L1152.0,460.3 L1153.7,460.5 L1155.6,460.6 L1157.6,460.4 L1161.5,459.7 L1165.3,458.4 L1168.8,456.6 L1172.0,454.2 L1175.0,451.2 L1177.4,448.1 L1179.6,444.4 L1181.6,440.3 L1183.3,435.8 L1185.0,430.5 L1186.5,424.5 L1187.9,417.6 L1189.3,410.0 L1190.4,402.3 L1191.3,394.2 L1193.1,376.2 L1194.8,353.7 L1196.3,326.2 L1197.6,296.2 L1198.9,259.5 L1203.1,119.3 L1204.1,97.8 L1204.7,91.5 L1204.9,90.3 L1205.1,89.9 L1205.3,90.1 L1205.6,91.3 L1206.2,95.6 L1206.7,102.7 L1207.4,114.3 L1208.7,145.3 L1212.1,238.7 L1213.8,278.0 L1214.9,300.5 L1216.1,321.9 L1217.3,340.2 L1218.5,355.7 L1219.9,370.9 L1221.6,385.3 L1223.2,396.9 L1225.1,407.4 L1227.2,416.7 L1229.4,424.3 L1231.9,431.0 L1233.4,434.1 L1234.8,436.8 L1236.4,439.5 L1238.2,441.9 L1240.0,443.9 L1241.9,445.8 L1244.0,447.5 L1246.2,448.9 L1248.5,450.0 L1251.1,451.0 L1253.7,451.8 L1256.6,452.3 L1259.4,452.5 L1262.4,452.5 L1265.4,452.2 L1268.2,451.7 L1271.1,450.9 L1273.9,449.9 L1276.4,448.8 L1278.7,447.5 L1280.9,446.1 L1283.1,444.4 L1285.1,442.6 L1287.0,440.6 L1288.8,438.5 L1290.6,436.1 L1292.2,433.6 L1293.7,430.9 L1296.7,424.7 L1299.5,417.4 L1301.9,409.5 L1303.6,402.5 L1305.3,394.7 L1306.8,386.3 L1308.4,376.6 L1309.8,366.0 L1311.1,354.8 L1312.4,341.9 L1313.7,328.4 L1315.9,299.2 L1318.1,263.3 L1320.0,225.2 L1323.7,149.1 L1325.2,121.2 L1326.1,108.7 L1326.8,100.6 L1327.6,95.6 L1328.1,94.2 L1328.4,93.9 L1328.8,94.3 L1329.3,95.5 L1329.7,97.5 L1330.3,101.1 L1331.2,110.3 L1332.2,122.7 L1334.0,150.1 L1337.8,218.8 L1339.8,251.8 L1341.9,282.6 L1344.0,308.7 L1346.2,331.7 L1348.5,351.3 L1351.0,368.6 L1353.7,382.8 L1355.4,390.6 L1357.4,398.0 L1359.5,404.6 L1361.7,410.3 L1364.0,415.3 L1366.6,419.7 L1369.2,423.3 L1371.9,426.2 L1373.5,427.5 L1375.0,428.6 L1376.6,429.5 L1378.2,430.2 L1379.9,430.7 L1381.5,431.0 L1383.2,431.0 L1384.8,430.9 L1386.5,430.5 L1388.0,430.0 L1389.5,429.3 L1391.1,428.3 L1392.6,427.1 L1394.1,425.8 L1395.5,424.2 L1396.8,422.5 L1398.4,420.0 L1400.0,417.2 L1401.4,414.2 L1402.8,410.8 L1404.2,407.1 L1405.5,402.9 L1407.9,393.6 L1410.1,382.8 L1412.1,370.6 L1414.0,356.3 L1415.6,340.9 L1417.0,325.0 L1418.5,306.2 L1419.9,284.3 L1421.2,260.9 L1423.5,212.4 L1427.5,118.0 L1428.9,89.4 L1429.6,79.2 L1430.2,71.5 L1430.9,66.6 L1431.2,65.3 L1431.6,64.8 L1431.9,65.0 L1432.3,66.3 L1433.1,71.0 L1433.9,78.8 L1434.6,89.4 L1436.5,123.3 L1441.2,223.8 L1443.5,265.9 L1445.2,291.3 L1446.8,313.1 L1448.6,332.7 L1450.4,349.1 L1452.5,365.2 L1454.8,379.5 L1457.3,391.9 L1458.6,397.4 L1460.0,402.6 L1461.6,407.5 L1463.1,411.8 L1464.8,415.9 L1466.5,419.6 L1468.4,423.1 L1470.3,426.1 L1472.4,429.0 L1474.6,431.6 L1476.6,433.7 L1478.7,435.5 L1481.0,437.3 L1483.5,438.8 L1486.0,440.1 L1488.6,441.2 L1491.4,442.2 L1494.4,443.0 L1497.5,443.6 L1500.7,444.0 L1504.0,444.1 L1507.4,444.1 L1510.7,443.9 L1513.9,443.4 L1517.0,442.8 L1519.8,441.9 L1523.1,440.5 L1525.9,438.7 L1528.3,436.6 L1530.5,434.0 L1532.0,431.7 L1533.4,428.9 L1534.9,425.1 L1538.2,416.0 L1539.1,414.2 L1540.0,413.1 L1540.4,412.9 L1541.0,412.9 L1541.4,413.2 L1542.0,413.8 L1542.9,415.3 L1545.3,420.2 L1546.6,422.6 L1548.1,424.7 L1549.8,426.2 L1551.7,427.1 L1552.8,427.4 L1553.9,427.4 L1556.4,427.1 L1559.1,426.1 L1562.9,424.1 L1566.9,421.2 L1571.0,417.5 L1575.1,413.1 L1578.8,408.5 L1582.5,403.2 L1585.9,397.5 L1589.2,391.2 L1592.1,384.8 L1595.0,377.9 L1597.7,370.3 L1600.3,362.5 L1602.7,354.3 L1605.1,345.0 L1607.4,335.3 L1609.7,324.5 L1611.8,313.8 L1613.8,302.8 L1617.9,277.4 L1621.7,250.3 L1631.1,180.3 L1633.9,161.1 L1636.7,144.6 L1638.9,132.7 L1641.5,119.4 L1647.6,90.0 L1650.2,78.1 L1651.9,71.7 L1653.3,67.5 L1653.9,66.0 L1654.6,64.9 L1655.3,64.2 L1655.8,64.0 L1656.3,64.1 L1656.7,64.4 L1657.5,65.4 L1658.2,67.2 L1659.1,70.0 L1659.9,73.3 L1660.8,77.9 L1662.5,89.4 L1665.4,113.5 L1671.4,172.3 L1674.4,199.4 L1677.6,225.4 L1680.8,248.0 L1683.7,266.1 L1686.8,282.6 L1690.2,298.4 L1693.9,313.0 L1696.4,322.1 L1699.1,331.2 L1702.0,339.7 L1705.0,347.9 L1708.1,355.6 L1711.2,362.9 L1714.7,370.0 L1718.1,376.5 L1721.6,382.5 L1725.2,388.1 L1729.0,393.2 L1732.7,397.8 L1736.5,401.9 L1740.4,405.5 L1744.4,408.5 L1748.2,410.9" fill="none" stroke="#0f0" stroke-width="5.9" stroke-linejoin="round" stroke-linecap="round" stroke-dasharray="0.01 10.3"/>
</g>
<rect x="1043.4" y="7.1" width="703.8999999999999" height="569.5" fill="none" stroke="#000" stroke-width="2.8"/>
<line x1="1037.9" y1="7.1" x2="1043.4" y2="7.1" stroke="#000" stroke-width="2.8"/>
<path d="M1043.40,576.6v11 M1043.40,7.1v11 M1087.39,576.6v5.5 M1087.39,7.1v5.5 M1131.39,576.6v11 M1131.39,7.1v11 M1175.38,576.6v5.5 M1175.38,7.1v5.5 M1219.38,576.6v11 M1219.38,7.1v11 M1263.37,576.6v5.5 M1263.37,7.1v5.5 M1307.36,576.6v11 M1307.36,7.1v11 M1351.36,576.6v5.5 M1351.36,7.1v5.5 M1395.35,576.6v11 M1395.35,7.1v11 M1439.34,576.6v5.5 M1439.34,7.1v5.5 M1483.34,576.6v11 M1483.34,7.1v11 M1527.33,576.6v5.5 M1527.33,7.1v5.5 M1571.33,576.6v11 M1571.33,7.1v11 M1615.32,576.6v5.5 M1615.32,7.1v5.5 M1659.31,576.6v11 M1659.31,7.1v11 M1703.31,576.6v5.5 M1703.31,7.1v5.5 M1747.30,576.6v11 M1747.30,7.1v11 M1043.4,576.60h-11 M1747.3,576.60h-11 M1043.4,524.83h-5.5 M1747.3,524.83h-5.5 M1043.4,473.05h-11 M1747.3,473.05h-11 M1043.4,421.28h-5.5 M1747.3,421.28h-5.5 M1043.4,369.51h-11 M1747.3,369.51h-11 M1043.4,317.74h-5.5 M1747.3,317.74h-5.5 M1043.4,265.96h-11 M1747.3,265.96h-11 M1043.4,214.19h-5.5 M1747.3,214.19h-5.5 M1043.4,162.42h-11 M1747.3,162.42h-11 M1043.4,110.65h-5.5 M1747.3,110.65h-5.5 M1043.4,58.87h-11 M1747.3,58.87h-11" stroke="#000" stroke-width="2.8" fill="none"/>
<text transform="translate(1043.40,624.60) scale(1,1.035)" text-anchor="middle">2</text>
<text transform="translate(1131.39,624.60) scale(1,1.035)" text-anchor="middle">4</text>
<text transform="translate(1219.38,624.60) scale(1,1.035)" text-anchor="middle">6</text>
<text transform="translate(1307.36,624.60) scale(1,1.035)" text-anchor="middle">8</text>
<text transform="translate(1395.35,624.60) scale(1,1.035)" text-anchor="middle">10</text>
<text transform="translate(1483.34,624.60) scale(1,1.035)" text-anchor="middle">12</text>
<text transform="translate(1571.33,624.60) scale(1,1.035)" text-anchor="middle">14</text>
<text transform="translate(1659.31,624.60) scale(1,1.035)" text-anchor="middle">16</text>
<text transform="translate(1747.30,624.60) scale(1,1.035)" text-anchor="middle">18</text>
<text transform="translate(1023.80,587.50) scale(1,1.035)" text-anchor="end">-0.25</text>
<text transform="translate(1023.80,483.95) scale(1,1.035)" text-anchor="end">0.00</text>
<text transform="translate(1023.80,380.41) scale(1,1.035)" text-anchor="end">0.25</text>
<text transform="translate(1023.80,276.86) scale(1,1.035)" text-anchor="end">0.50</text>
<text transform="translate(1023.80,173.32) scale(1,1.035)" text-anchor="end">0.75</text>
<text transform="translate(1023.80,69.77) scale(1,1.035)" text-anchor="end">1.00</text>
<text transform="translate(1395.35,665.00) scale(1,1.035)" text-anchor="middle">Frequency (GHz)</text>
<text transform="translate(935.7,315.8) rotate(-90) scale(1,1.035)" text-anchor="middle">Absorptance</text>
<text x="1392.35" y="721.6" text-anchor="middle" class="lab">(b)</text>
<line x1="1204.2" y1="488.0" x2="1288.8" y2="488.0" stroke="#000" stroke-width="5.9" stroke-linecap="round"/>
<text transform="translate(1300.0,501.6) scale(1,1.035)"><tspan font-style="italic">θ</tspan>=0°</text>
<line x1="1398.9" y1="488.1" x2="1478.1" y2="488.1" stroke="#f00" stroke-width="5.9" stroke-linecap="round" stroke-dasharray="8.1 15.4"/>
<text transform="translate(1495.0,501.6) scale(1,1.035)"><tspan font-style="italic">θ</tspan>=45°</text>
<line x1="1287.3" y1="535.0" x2="1372" y2="535.0" stroke="#0f0" stroke-width="5.9" stroke-linecap="round" stroke-dasharray="0.01 10.3"/>
<text transform="translate(1383.2,548.6) scale(1,1.035)"><tspan font-style="italic">θ</tspan>=90°</text>
</svg>
</body></html>
